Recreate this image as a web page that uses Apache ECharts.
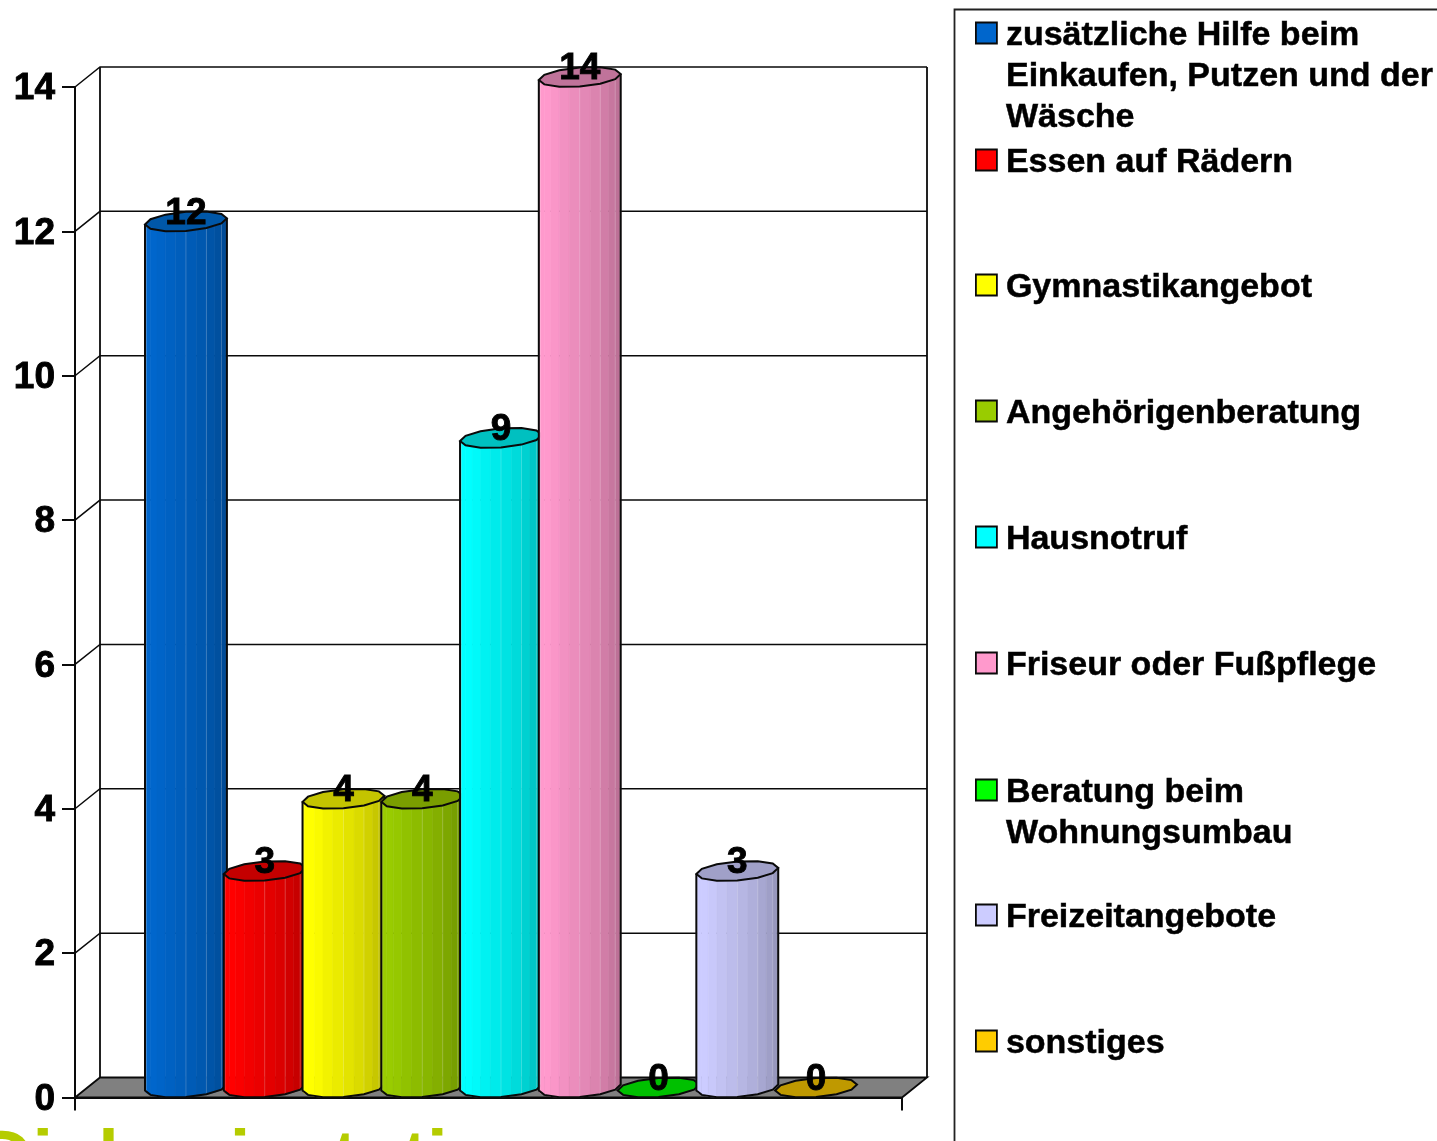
<!DOCTYPE html>
<html><head><meta charset="utf-8">
<style>html,body{margin:0;padding:0;background:#fff;overflow:hidden}#c{width:1437px;height:1141px}</style>
<script src="https://cdn.jsdelivr.net/npm/echarts@6/dist/echarts.min.js"></script>
</head><body><div id="c"></div>
<script>
const seriesNames = ['zusätzliche Hilfe beim Einkaufen, Putzen und der Wäsche','Essen auf Rädern','Gymnastikangebot','Angehörigenberatung','Hausnotruf','Friseur oder Fußpflege','Beratung beim Wohnungsumbau','Freizeitangebote','sonstiges'];
const legendFirstLines = ['zusätzliche Hilfe beim','Essen auf Rädern','Gymnastikangebot','Angehörigenberatung','Hausnotruf','Friseur oder Fußpflege','Beratung beim','Freizeitangebote','sonstiges'];
const values = [12,3,4,4,9,14,0,3,0];
const colors = ['#0066CC','#FF0000','#FFFF00','#99CC00','#00FFFF','#FF99CC','#00FF00','#CCCCFF','#FFCC00'];
const topColors = ['#0057A8','#C40000','#C4C400','#7A9E00','#00C0C0','#C0739A','#00C000','#A0A0C8','#BF9900'];
const yTicks = [0,2,4,6,8,10,12,14];
const categories = [''];
const legendCenters = [33,160,285,411,537,663,790,915,1041];
const extraLegendLines = [['Einkaufen, Putzen und der',77],['Wäsche',118],['Wohnungsumbau',834]];
const FONT = '"Liberation Sans", Arial, sans-serif';
const DX = 25, DY = 20, INK = '#0a0a0a';

function shade(hex,f){
  const n=parseInt(hex.slice(1),16);
  return 'rgb('+[(n>>16)&255,(n>>8)&255,n&255].map(v=>Math.round(v*f)).join(',')+')';
}
const facetShade = [.95,1,1,.98,.95,.92,.89,.86,.82,.78,.74,.70];

function renderCylinder(i){
  return function(params,api){
    const v = api.value(1);
    const p = api.coord([0,v]), p0 = api.coord([0,0]);
    const step = api.size([1,0])[0]/10.5;
    const cx = p[0] + (i-4)*step + DX/2;
    const yTop = p[1] - DY/2, yBase = p0[1] - DY/2;
    const a = step*0.495, b = DX/2, ry = DY/2;
    const N = facetShade.length, t0 = Math.PI + Math.atan2(b,a);
    const ring = (t,y)=>[cx + a*Math.cos(t) + b*Math.sin(t), y - ry*Math.sin(t)];
    const kids = [];
    if (v>0){
      const outline=[ring(t0,yTop)];
      for(let k=0;k<N;k++){
        const t1=t0+Math.PI*k/N,t2=t0+Math.PI*(k+1)/N;
        const f=shade(colors[i],facetShade[k]);
        kids.push({type:'polygon',silent:true,shape:{points:[ring(t1,yTop),ring(t2,yTop),ring(t2,yBase),ring(t1,yBase)]},
          style:{fill:f,stroke:f,lineWidth:.6}});
        if(k===1||k===6||k===8||k===10){
          const q=ring(t1,yTop),r=ring(t1,yBase);
          kids.push({type:'line',silent:true,shape:{x1:q[0],y1:q[1],x2:r[0],y2:r[1]},style:{stroke:'rgba(255,255,255,.2)',lineWidth:1}});
        }
      }
      for(let k=0;k<=N;k+=2) outline.push(ring(t0+Math.PI*k/N,yBase));
      outline.push(ring(t0+Math.PI,yTop));
      kids.push({type:'polyline',silent:true,shape:{points:outline},style:{fill:null,stroke:INK,lineWidth:2}});
    }
    const top=[];
    for(let k=0;k<12;k++) top.push(ring(t0+2*Math.PI*k/12,yTop));
    kids.push({type:'polygon',silent:true,shape:{points:top},style:{fill:topColors[i],stroke:INK,lineWidth:2}});
    kids.push({type:'text',silent:true,style:{text:String(v),x:cx,y:yTop-8,align:'center',verticalAlign:'middle',
      font:'bold 37px '+FONT,fill:'#000',stroke:'#000',lineWidth:.9}});
    return {type:'group',children:kids};
  };
}

function renderWalls(params,api){
  const v=api.value(0);
  const cs=params.coordSys;
  const y=api.coord([0,v])[1];
  const L=cs.x,R=cs.x+cs.width;
  const kids=[];
  if(v===0){
    kids.push({type:'polygon',silent:true,shape:{points:[[L,y],[L+DX,y-DY],[R+DX,y-DY],[R,y]]},style:{fill:'#808080',stroke:INK,lineWidth:1.8}});
    const top=api.coord([0,yTicks[yTicks.length-1]])[1];
    kids.push({type:'line',silent:true,shape:{x1:L+DX,y1:top-DY,x2:L+DX,y2:y-DY},style:{stroke:INK,lineWidth:1.8}});
    kids.push({type:'line',silent:true,shape:{x1:R+DX,y1:top-DY,x2:R+DX,y2:y-DY},style:{stroke:INK,lineWidth:1.8}});
  } else {
    kids.push({type:'polyline',silent:true,shape:{points:[[L,y],[L+DX,y-DY],[R+DX,y-DY]]},style:{fill:null,stroke:INK,lineWidth:1.5}});
  }
  return {type:'group',children:kids};
}

const series=[{type:'custom',name:'walls',coordinateSystem:'cartesian2d',clip:false,z:1,silent:true,
  data:yTicks.map(v=>[v]),encode:{y:0},renderItem:renderWalls}];
seriesNames.forEach((n,i)=>series.push({type:'custom',name:n,coordinateSystem:'cartesian2d',clip:false,z:2,silent:true,
  itemStyle:{color:colors[i]},data:[[0,values[i]]],encode:{x:0,y:1},renderItem:renderCylinder(i)}));

const legends=seriesNames.map((n,i)=>({
  data:[n],orient:'vertical',left:975,top:legendCenters[i]-20,selectedMode:false,padding:0,
  itemWidth:21,itemHeight:21,icon:'rect',
  itemStyle:{borderColor:INK,borderWidth:1.8},
  formatter:()=>'{a|'+legendFirstLines[i]+'}',
  textStyle:{rich:{a:{fontFamily:FONT,fontWeight:'bold',fontSize:34,color:'#000',padding:[6,0,0,4],lineHeight:40,textBorderColor:'#000',textBorderWidth:.5}}}
}));

const graphics=[
  {type:'rect',silent:true,z:0,shape:{x:954.5,y:9.5,width:600,height:1300},style:{fill:'#fff',stroke:'#222',lineWidth:1.8}},
  {type:'text',silent:true,z:0,x:-21,y:1124.5,style:{text:'Diplomiestnti',font:'bold 74px '+FONT,fill:'#B5CC00',verticalAlign:'top'}}
].concat(extraLegendLines.map(l=>({type:'text',silent:true,z:5,x:1006,y:l[1],style:{text:l[0],font:'bold 34px '+FONT,fill:'#000',stroke:'#000',lineWidth:.5,verticalAlign:'middle'}})));

const chart=echarts.init(document.getElementById('c'),null,{renderer:'canvas'});
chart.setOption({
  animation:false,backgroundColor:'#fff',
  grid:{left:75,right:535,top:87,bottom:43.5,containLabel:false},
  xAxis:{type:'category',data:categories,boundaryGap:true,
    axisLine:{lineStyle:{color:INK,width:2}},axisTick:{show:true,length:13,lineStyle:{color:INK,width:2}},axisLabel:{show:false},splitLine:{show:false}},
  yAxis:{type:'value',min:0,max:14,interval:2,
    axisLine:{show:true,lineStyle:{color:INK,width:2}},axisTick:{show:true,length:13,lineStyle:{color:INK,width:2}},
    axisLabel:{margin:20,formatter:'{a|{value}}',rich:{a:{fontFamily:FONT,fontWeight:'bold',fontSize:37,color:'#000',padding:[4,0,0,0],textBorderColor:'#000',textBorderWidth:.9}}},splitLine:{show:false}},
  legend:legends,graphic:graphics,series:series
});
</script></body></html>
